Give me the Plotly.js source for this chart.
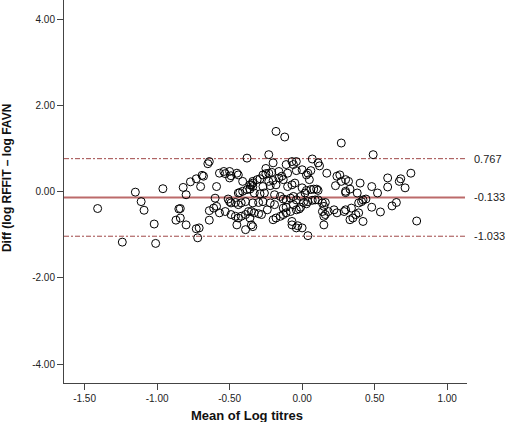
<!DOCTYPE html>
<html>
<head>
<meta charset="utf-8">
<script src="https://cdn.plot.ly/plotly-3.0.1.min.js"></script>
<style>html,body{margin:0;padding:0;background:#fff;}#chart{width:505px;height:422px;}</style>
</head>
<body>
<div id="chart"></div>
<script>
// Mean of log titres (x) and difference log RFFIT - log FAVN (y)
var meanLogTitres = [
-1.41,-1.15,-1.11,-1.09,-1.24,-1.02,-1.01,-0.96,-0.82,-0.80,-0.77,-0.73,-0.69,-0.70,-0.64,-0.84,-0.85,-0.84,-0.87,-0.80,-0.73,-0.71,-0.72,-0.64,-0.64,-0.68,-0.65,
-0.38,-0.57,-0.54,-0.53,-0.50,-0.49,-0.45,-0.44,-0.50,-0.41,-0.36,-0.34,-0.59,-0.44,-0.43,-0.41,-0.38,-0.36,-0.60,-0.51,-0.50,-0.49,-0.46,-0.44,-0.42,-0.39,
-0.61,-0.59,-0.57,-0.53,-0.49,-0.46,-0.44,-0.42,-0.39,-0.37,-0.36,-0.45,-0.39,
-0.23,-0.20,-0.11,-0.07,-0.06,-0.10,-0.16,-0.27,-0.25,-0.23,-0.21,-0.31,-0.29,-0.34,-0.23,-0.20,-0.16,-0.14,-0.13,-0.35,-0.34,-0.27,-0.22,-0.18,-0.10,-0.07,-0.05,
-0.33,-0.29,-0.26,-0.19,-0.15,-0.13,-0.11,-0.08,-0.06,-0.34,-0.30,-0.27,-0.22,-0.19,-0.35,-0.33,-0.30,-0.28,-0.24,-0.20,-0.18,-0.15,-0.13,-0.11,-0.08,-0.13,-0.11,
-0.35,-0.34,-0.07,-0.04,-0.06,-0.18,-0.12,-0.25,-0.04,
-0.04,0.00,0.03,0.04,0.06,0.05,0.11,0.17,0.24,0.27,0.23,0.00,0.03,0.06,0.08,0.10,0.11,0.02,-0.01,-0.04,0.04,0.07,0.09,0.11,0.01,0.03,0.14,0.16,
-0.04,-0.02,-0.01,0.15,0.14,0.18,0.22,0.24,0.15,0.00,-0.03,0.04,0.07,0.12,0.27,0.15,0.16,-0.07,
0.49,0.30,0.32,0.30,0.30,0.40,0.48,0.52,0.38,0.39,0.41,0.42,0.44,0.48,0.54,0.29,0.30,0.33,0.35,0.37,0.39,0.42,0.26,0.33,0.34,
0.59,0.59,0.67,0.68,0.71,0.75,0.62,0.65,0.79
];
var diffLogTitres = [
-0.39,-0.01,-0.23,-0.43,-1.17,-0.75,-1.20,0.07,0.10,-0.07,0.23,0.30,0.38,0.12,0.70,-0.39,-0.40,-0.61,-0.66,-0.77,-0.86,-0.84,-1.07,-0.44,-0.66,0.36,0.65,
0.78,0.43,0.47,0.42,0.47,0.37,0.43,0.39,0.32,0.24,0.16,0.20,0.12,-0.03,-0.02,0.01,0.05,0.06,-0.15,-0.17,-0.23,-0.26,-0.25,-0.30,-0.26,-0.23,
-0.38,-0.34,-0.49,-0.46,-0.53,-0.57,-0.61,-0.57,-0.53,-0.46,-0.61,-0.77,-0.88,
0.86,0.67,0.63,0.70,0.63,0.43,0.47,0.39,0.42,0.43,0.45,0.28,0.30,0.24,0.24,0.26,0.32,0.36,0.28,0.16,0.12,0.12,0.14,0.16,0.12,0.16,0.20,
-0.03,-0.05,-0.03,-0.07,-0.11,-0.17,-0.19,-0.15,-0.11,-0.26,-0.25,-0.23,-0.26,-0.30,-0.46,-0.49,-0.51,-0.53,-0.42,-0.65,-0.61,-0.57,-0.53,-0.49,-0.46,-0.38,-0.36,
-0.77,-0.81,-0.69,-0.84,-0.30,1.40,1.27,0.54,0.49,
0.70,0.51,0.39,0.43,0.49,0.28,0.67,0.43,0.36,0.24,0.14,0.09,0.03,0.05,0.06,0.06,0.03,-0.03,-0.11,-0.19,-0.23,-0.20,-0.19,-0.19,-0.25,-0.28,-0.26,-0.25,
-0.42,-0.40,-0.36,-0.34,-0.46,-0.46,-0.42,-0.49,-0.77,-0.84,-0.79,-1.02,0.76,0.60,1.13,-0.57,-0.53,-0.77,
0.86,0.28,0.24,0.01,-0.02,0.20,0.12,-0.03,-0.03,-0.26,-0.23,-0.19,-0.17,-0.36,-0.47,-0.46,-0.42,-0.65,-0.61,-0.53,-0.49,-0.69,0.39,0.06,-0.38,
0.32,0.11,0.24,0.30,0.09,0.43,-0.33,-0.25,-0.68
];
// Bland-Altman reference lines: upper limit, mean difference, lower limit
var refValues = [0.767, -0.133, -1.033];
var refLabels = ['0.767', '-0.133', '-1.033'];
var refDash = ['5px,2px,2px,2px', 'solid', '5px,2px,2px,2px'];
var refColor = ['#a04848', '#bc6a6a', '#a04848'];
var refWidth = [1, 2, 1];
var xTicks = [-1.5, -1.0, -0.5, 0.0, 0.5, 1.0];
var xTickText = ['-1.50', '-1.00', '-0.50', '0.00', '0.50', '1.00'];
var yTicks = [-4, -2, 0, 2, 4];
var yTickText = ['-4.00', '-2.00', '0.00', '2.00', '4.00'];

var font = '"Liberation Sans", Arial, sans-serif';
var shapes = [], annotations = [];
for (var i = 0; i < refValues.length; i++) {
  shapes.push({type: 'line', xref: 'paper', yref: 'y', x0: 0, x1: 0.995,
    y0: refValues[i], y1: refValues[i], layer: 'below',
    line: {color: refColor[i], width: refWidth[i], dash: refDash[i]}});
  annotations.push({xref: 'paper', yref: 'y', x: 1.013, y: refValues[i],
    text: refLabels[i], showarrow: false, xanchor: 'left', yanchor: 'middle',
    font: {family: font, size: 11, color: '#222'}});
}
annotations.push({xref: 'paper', yref: 'paper', x: 0.453, y: -0.0836, xanchor: 'center', yanchor: 'middle',
  text: '<b>Mean of Log titres</b>', showarrow: false, font: {family: font, size: 13, color: '#111'}});
annotations.push({xref: 'paper', yref: 'paper', x: -0.1414, y: 0.535, xanchor: 'center', yanchor: 'middle',
  textangle: -90, text: '<b>Diff (log RFFIT \u2013 log FAVN</b>', showarrow: false,
  font: {family: font, size: 12, color: '#111'}});

var trace = {
  x: meanLogTitres, y: diffLogTitres, type: 'scatter', mode: 'markers',
  marker: {symbol: 'circle-open', size: 8, color: '#000', line: {width: 1, color: '#000'}},
  hoverinfo: 'skip', cliponaxis: false
};
var layout = {
  width: 505, height: 422,
  margin: {l: 64, r: 38, t: 0, b: 39, pad: 0},
  paper_bgcolor: '#fff', plot_bgcolor: '#fff',
  showlegend: false,
  font: {family: font, size: 10, color: '#222'},
  xaxis: {range: [-1.642, 1.137], tickvals: xTicks, ticktext: xTickText, ticks: 'outside', ticklen: 6,
    tickcolor: '#444', showline: true, linecolor: '#444', linewidth: 1, showgrid: false, zeroline: false,
    tickfont: {family: font, size: 10, color: '#222'}},
  yaxis: {range: [-4.44, 4.45], tickvals: yTicks, ticktext: yTickText, ticks: 'outside', ticklen: 6,
    tickcolor: '#444', showline: true, linecolor: '#444', linewidth: 1, showgrid: false, zeroline: false,
    tickfont: {family: font, size: 10, color: '#222'}},
  shapes: shapes, annotations: annotations
};
Plotly.newPlot('chart', [trace], layout, {displayModeBar: false, staticPlot: true});
</script>
</body>
</html>
